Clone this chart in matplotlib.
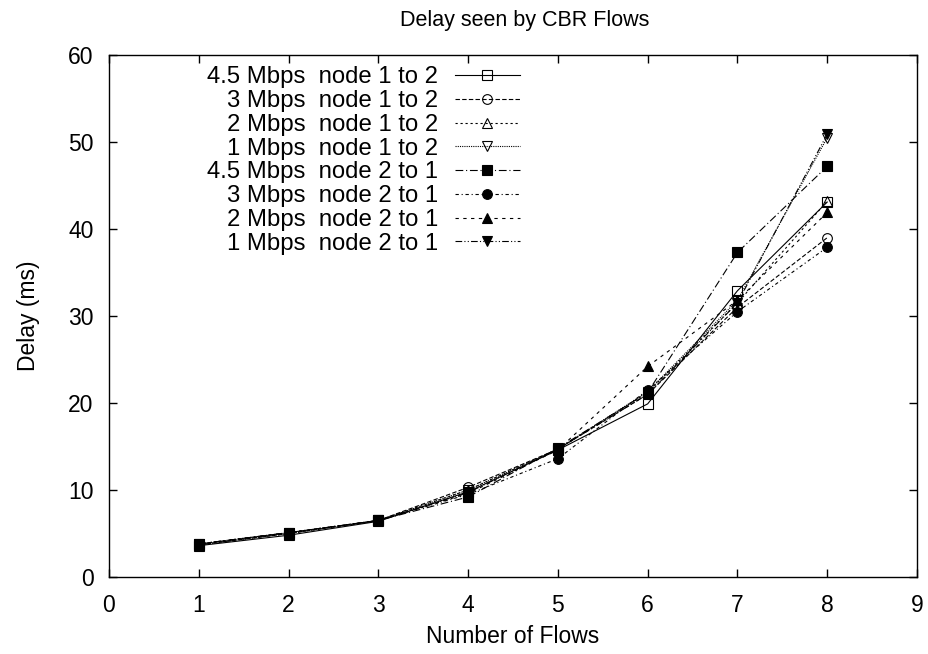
import matplotlib
matplotlib.use("Agg")
import matplotlib.pyplot as plt

plt.rcParams['font.family'] = ['Liberation Sans', 'DejaVu Sans']

flows = [1, 2, 3, 4, 5, 6, 7, 8]
labels = ["4.5 Mbps  node 1 to 2", "3 Mbps  node 1 to 2", "2 Mbps  node 1 to 2",
          "1 Mbps  node 1 to 2", "4.5 Mbps  node 2 to 1", "3 Mbps  node 2 to 1",
          "2 Mbps  node 2 to 1", "1 Mbps  node 2 to 1"]
d45_12 = [3.6, 4.8, 6.4, 9.8, 14.6, 19.9, 32.9, 43.1]
d3_12 = [3.7, 5.0, 6.5, 10.3, 14.7, 21.0, 31.0, 39.0]
d2_12 = [3.7, 5.0, 6.5, 10.0, 14.7, 21.2, 31.5, 43.2]
d1_12 = [3.7, 5.0, 6.5, 10.0, 14.7, 21.3, 31.8, 50.5]
d45_21 = [3.8, 5.1, 6.5, 9.2, 14.8, 21.2, 37.3, 47.2]
d3_21 = [3.8, 5.1, 6.5, 9.5, 13.6, 21.5, 30.5, 37.9]
d2_21 = [3.8, 5.1, 6.5, 9.6, 14.6, 24.2, 31.8, 41.9]
d1_21 = [3.8, 5.1, 6.5, 9.7, 14.7, 21.0, 31.5, 50.9]
series = [d45_12, d3_12, d2_12, d1_12, d45_21, d3_21, d2_21, d1_21]

markers = ['s', 'o', '^', 'v', 's', 'o', '^', 'v']
filled = [False, False, False, False, True, True, True, True]
dashes = [(None, None), (4, 2), (2, 2.5), (1, 1), (7, 2.5, 1, 2.5),
          (3, 2.5, 1, 2.5), (3, 4), (6, 2, 1, 2, 1, 2)]

fig = plt.figure(figsize=(9.29, 6.54), dpi=100)
ax = fig.add_axes([109/929, 1-577/654, (917-109)/929, (577-55)/654])

for y, lab, m, f, d in zip(series, labels, markers, filled, dashes):
    ls = '-' if d[0] is None else (0, d)
    ax.plot(flows, y, linestyle=ls, color='black', linewidth=0.8,
            marker=m, markersize=7, markeredgewidth=0.8,
            markerfacecolor='black' if f else 'none', markeredgecolor='black',
            label=lab)

ax.set_xlim(0, 9)
ax.set_ylim(0, 60)
ax.set_xticks(range(0, 10))
ax.set_yticks(range(0, 61, 10))
ax.tick_params(direction='in', top=True, right=True, length=6, width=1,
               labelsize=16.5)
ax.tick_params(axis='x', pad=12)
ax.tick_params(axis='y', pad=11)
for s in ax.spines.values():
    s.set_linewidth(1)
ax.set_xlabel("Number of Flows", fontsize=16.5, labelpad=6)
ax.set_ylabel("Delay (ms)", fontsize=16.5, labelpad=20)
ax.set_title("Delay seen by CBR Flows", fontsize=15.5, pad=21, x=0.514)

leg = ax.legend(loc='upper left', bbox_to_anchor=(0.098, 1.015), frameon=False,
                markerfirst=False, fontsize=17.2, handlelength=2.7,
                labelspacing=0.075, handletextpad=0.7, borderpad=0.3)
for col in leg._legend_handle_box.get_children():
    col.align = 'right'

fig.savefig("out.png", dpi=100)
